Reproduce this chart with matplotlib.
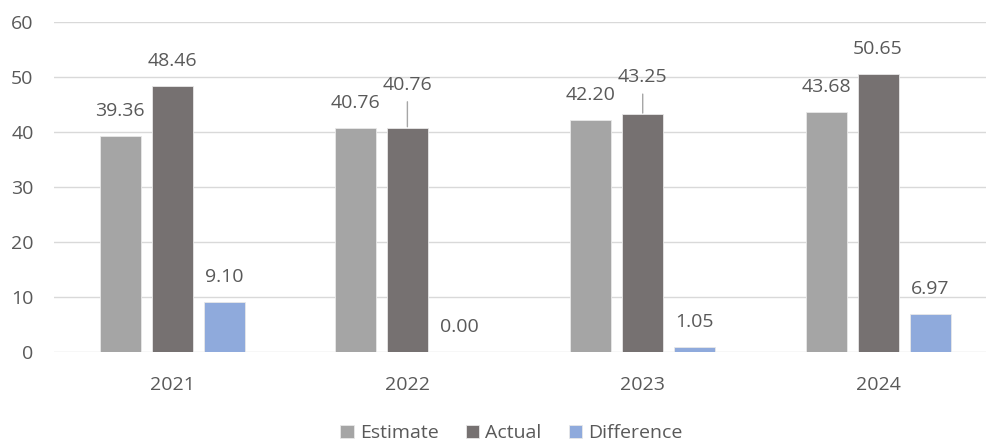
import matplotlib
matplotlib.use("Agg")
import matplotlib.pyplot as plt
import matplotlib.transforms as mtransforms
import numpy as np

years = ["2021", "2022", "2023", "2024"]
estimate = [39.36, 40.76, 42.20, 43.68]
actual = [48.46, 40.76, 43.25, 50.65]
difference = [9.10, 0.00, 1.05, 6.97]
series_names = ["Estimate", "Actual", "Difference"]

colors = ["#A5A5A5", "#767171", "#8FAADC"]
text_color = "#595959"
grid_color = "#D9D9D9"
FONT = "Open Sans"
FS = 14

plt.rcParams['font.family'] = [FONT, 'DejaVu Sans']

fig = plt.figure(figsize=(9.87, 4.43), dpi=100)
ax = fig.add_axes([54.4 / 987, 90.7 / 443, 941.3 / 987, 330.0 / 443])

x = np.arange(len(years))
pitch = 0.221
width = 0.174
all_series = [estimate, actual, difference]
offsets = [-pitch, 0.0, pitch]

for vals, off, c, name in zip(all_series, offsets, colors, series_names):
    ax.bar(x + off, vals, width=width, color=c, edgecolor="#E8E8E8",
           linewidth=0.6, label=name, zorder=3)

ax.set_xlim(-0.5, 3.5)
ax.set_ylim(0, 60)
ax.set_yticks(np.arange(0, 61, 10))
ax.set_xticks(x)
ax.set_xticklabels(years)
ax.yaxis.grid(True, color=grid_color, linewidth=1.0, zorder=0)
ax.set_axisbelow(True)
for s in ax.spines.values():
    s.set_visible(False)
ax.tick_params(axis="both", length=0, labelsize=FS, colors=text_color)
ax.tick_params(axis="y", pad=15)
ax.tick_params(axis="x", pad=17)

# label displacement (pixels above bar top) per series/category
label_shift = [[25, 25, 25, 25], [25, 43, 37, 25], [25, 25, 25, 25]]
for si, (vals, off) in enumerate(zip(all_series, offsets)):
    for ci, v in enumerate(vals):
        dy = label_shift[si][ci]
        ax.annotate(f"{v:.2f}", xy=(x[ci] + off, v), xytext=(0, dy),
                    textcoords="offset pixels", ha="center", va="center",
                    fontsize=FS, color=text_color, zorder=5)
        if dy > 30:
            ax.annotate("", xy=(x[ci] + off, v), xytext=(0, dy),
                        textcoords="offset pixels",
                        arrowprops=dict(arrowstyle="-", color="#A6A6A6", lw=1.0,
                                        shrinkA=12, shrinkB=1),
                        zorder=4)

leg = fig.legend(loc="center", bbox_to_anchor=(0.518, 0.022), ncol=3, frameon=False,
                 fontsize=FS, handlelength=0.7, handleheight=0.7, handletextpad=0.3,
                 columnspacing=1.4, labelcolor=text_color)

fig.savefig("out.png", dpi=100)
